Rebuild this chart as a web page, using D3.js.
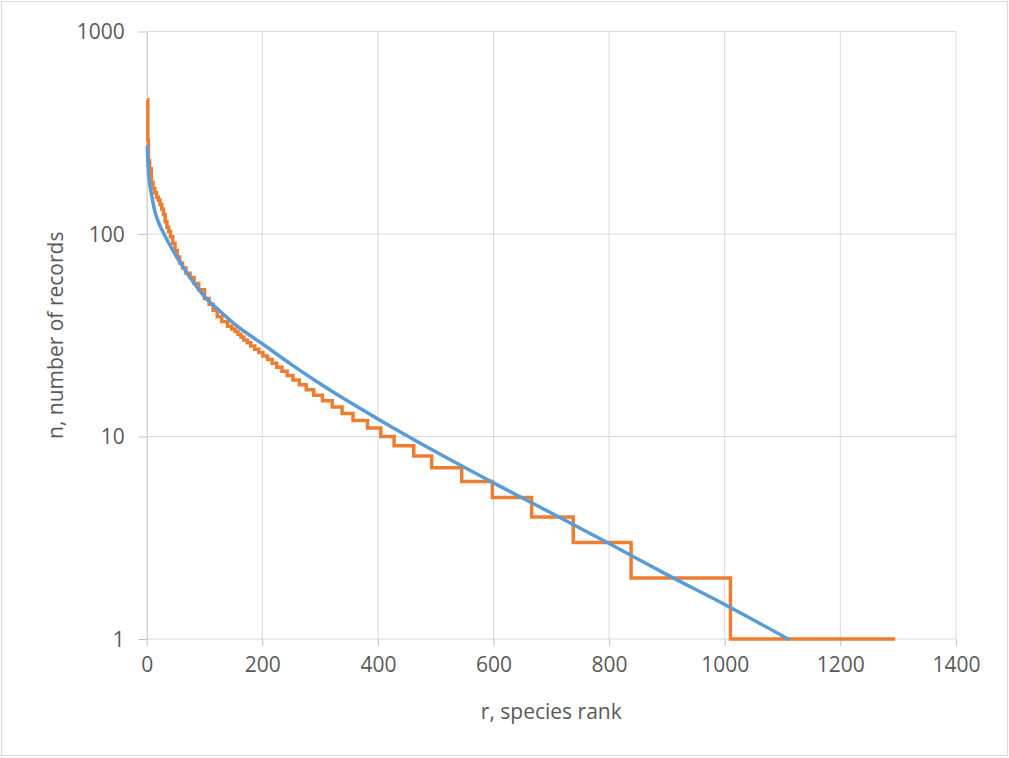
<!DOCTYPE html>
<html>
<head>
<meta charset="utf-8">
<script src="https://cdn.jsdelivr.net/npm/d3@7"></script>
<style>
    body { margin: 0; background: #fff; }
    svg { display: block; }
    .tick text { font-family: "Open Sans", sans-serif; fill: #595959; }
</style>
</head>
<body>
<div id="chart"></div>
<script>
// observed records: rank where a new count starts, and that count (step line)
var obsRank = [1, 2, 3, 5, 8, 11, 14, 17, 20, 23, 26, 29, 32, 35, 38, 41, 45, 49, 53, 57, 62, 68, 75, 82, 90, 100, 108, 115, 122, 130, 140, 147, 153, 158, 163,
    168, 174, 180, 187, 194, 201, 209, 217, 225, 234, 243, 253, 264, 276, 289, 304, 321, 338, 357, 382, 405, 428, 462, 493, 545, 598, 666, 738, 838, 1010, 1295]
var obsCount = [460, 290, 230, 210, 180, 168, 160, 152, 147, 140, 133, 125, 115, 108, 103, 97, 90, 83, 77, 72, 68, 64, 61, 57, 53, 48, 45, 42, 39, 37, 35, 34, 33, 32, 31,
    30, 29, 28, 27, 26, 25, 24, 23, 22, 21, 20, 19, 18, 17, 16, 15, 14, 13, 12, 11, 10, 9, 8, 7, 6, 5, 4, 3, 2, 1, 1]

// fitted curve
var fitRank = [1, 3, 6, 10, 14, 20, 30, 55, 80, 100, 127, 150, 200, 250, 300, 400, 500, 600, 700, 800, 900, 1000, 1110]
var fitCount = [270, 204, 171, 148, 130, 115, 100, 74.5, 58.2, 49, 41.5, 36.3, 28.7, 22.7, 18.2, 12.2, 8.4, 5.9, 4.19, 2.96, 2.08, 1.48, 1]

var xTicks = [0, 200, 400, 600, 800, 1000, 1200, 1400]
var yTicks = [1, 10, 100, 1000]

var W = 1009, H = 758
var svg = d3.select("#chart").append("svg")
    .attr("width", W)
    .attr("height", H)

// outer chart border
svg.append("rect")
    .attr("x", 1.5).attr("y", 1.5)
    .attr("width", W - 3).attr("height", H - 4)
    .attr("fill", "#fff")
    .attr("stroke", "#D9D9D9")

var x = d3.scaleLinear().domain([0, 1400]).range([146.7, 955.9])
var y = d3.scaleLog().domain([1, 1000]).range([639, 31.5])

// gridlines
svg.append("g").selectAll("line")
    .data(xTicks.slice(1))
    .enter().append("line")
    .attr("x1", d => x(d)).attr("x2", d => x(d))
    .attr("y1", y(1000)).attr("y2", y(1))
    .attr("stroke", "#D9D9D9").attr("stroke-width", 1)
svg.append("g").selectAll("line")
    .data(yTicks.slice(1))
    .enter().append("line")
    .attr("x1", x(0)).attr("x2", x(1400))
    .attr("y1", d => y(d)).attr("y2", d => y(d))
    .attr("stroke", "#D9D9D9").attr("stroke-width", 1)

// axes
var xAxis = svg.append("g")
    .attr("transform", "translate(0," + y(1) + ")")
    .call(d3.axisBottom(x).tickValues(xTicks).tickFormat(d3.format("d")).tickSize(7).tickPadding(11).tickSizeOuter(0))
var yAxis = svg.append("g")
    .attr("transform", "translate(" + x(0) + ",0)")
    .call(d3.axisLeft(y).tickValues(yTicks).tickFormat(d3.format("d")).tickSize(8).tickPadding(14).tickSizeOuter(0))
;[xAxis, yAxis].forEach(a => {
    a.select(".domain").attr("stroke", "#BFBFBF")
    a.selectAll(".tick line").attr("stroke", "#BFBFBF")
    a.selectAll(".tick text").attr("font-size", 21)
})
xAxis.select(".domain").remove()
xAxis.append("line").attr("x1", x(0)).attr("x2", x(1400)).attr("stroke", "#D9D9D9")
yAxis.selectAll(".tick text").attr("dy", "0.35em")

// axis titles
svg.append("text")
    .attr("x", (x(0) + x(1400)) / 2)
    .attr("y", 719)
    .attr("text-anchor", "middle")
    .attr("font-family", "Open Sans, sans-serif")
    .attr("font-size", 21)
    .attr("fill", "#595959")
    .text("r, species rank")
svg.append("text")
    .attr("transform", "translate(63," + (y(1) + y(1000)) / 2 + ") rotate(-90)")
    .attr("text-anchor", "middle")
    .attr("font-family", "Open Sans, sans-serif")
    .attr("font-size", 21)
    .attr("fill", "#595959")
    .text("n, number of records")

// data lines
var obs = obsRank.map((r, i) => [r, obsCount[i]])
var fit = fitRank.map((r, i) => [r, fitCount[i]])

svg.append("path")
    .datum(obs)
    .attr("fill", "none")
    .attr("stroke", "#ED7D31")
    .attr("stroke-width", 3.5)
    .attr("d", d3.line().x(d => x(d[0])).y(d => y(d[1])).curve(d3.curveStepAfter))

svg.append("path")
    .datum(fit)
    .attr("fill", "none")
    .attr("stroke", "#5B9BD5")
    .attr("stroke-width", 3.5)
    .attr("stroke-linecap", "round")
    .attr("d", d3.line().x(d => x(d[0])).y(d => y(d[1])).curve(d3.curveMonotoneX))
</script>
</body>
</html>
